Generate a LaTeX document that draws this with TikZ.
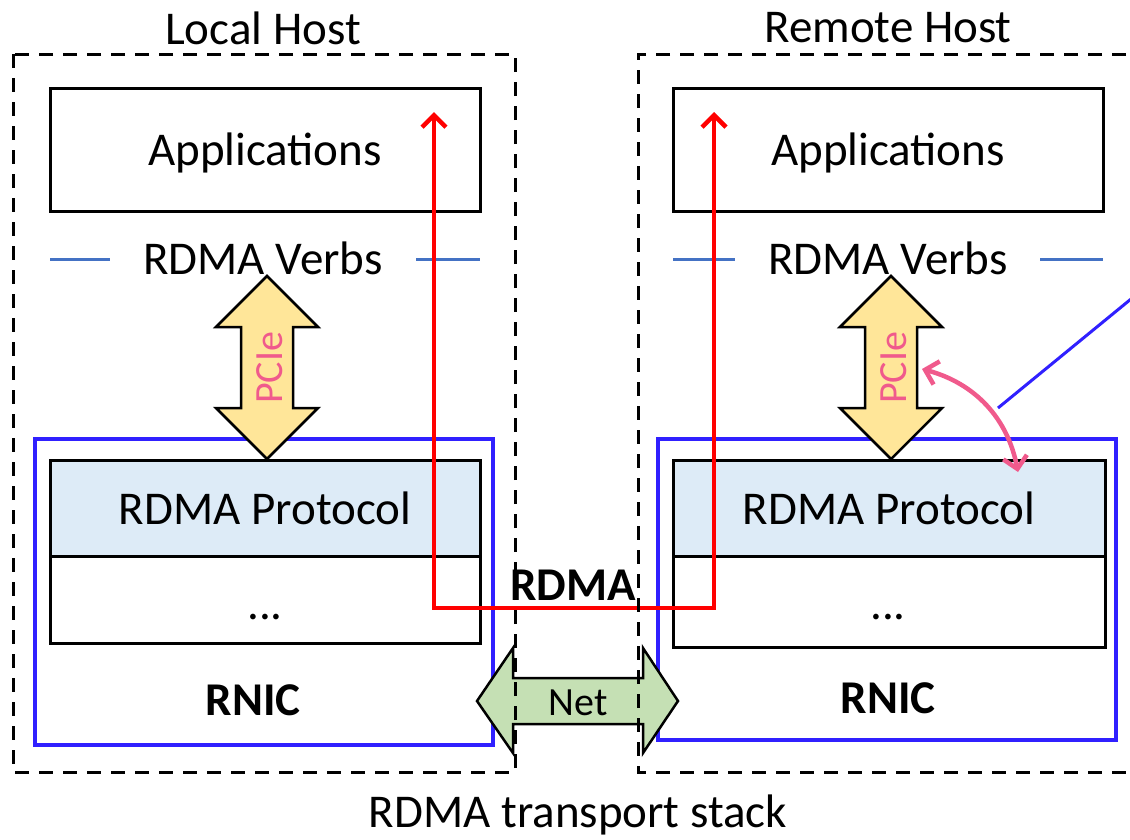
\documentclass[tikz,border=0pt]{standalone}
\usepackage{fontspec}
\setmainfont{Carlito}
\usetikzlibrary{arrows.meta}
\definecolor{rnicblue}{RGB}{48,32,255}
\definecolor{verbblue}{RGB}{68,114,196}
\definecolor{protofill}{RGB}{221,235,247}
\definecolor{pcifill}{RGB}{255,230,153}
\definecolor{netfill}{RGB}{197,224,180}
\definecolor{pinktxt}{RGB}{240,90,140}
\definecolor{redline}{RGB}{255,0,0}
\begin{document}
\begin{tikzpicture}[x=1pt,y=-1pt,
  big/.style={font=\fontsize{47}{56}\selectfont},
  bigbold/.style={font=\fontsize{47}{56}\selectfont\bfseries},
  small/.style={font=\fontsize{40}{48}\selectfont},
  hostbox/.style={draw=black,line width=3pt,dash pattern=on 14pt off 10pt},
  boxnode/.style={draw=black,line width=3pt,inner sep=0pt,big,text depth=0pt},
  rnicbox/.style={draw=rnicblue,line width=3.5pt,inner sep=0pt},
  verbdash/.style={draw=verbblue,line width=3pt},
  bigarrow/.style={draw=black,line width=2.5pt,line join=miter},
  redpath/.style={draw=redline,line width=4.5pt,{Straight Barb[length=12pt,width=24pt]}-{Straight Barb[length=12pt,width=24pt]}},
  pinkpath/.style={draw=pinktxt,line width=4.5pt,{Straight Barb[length=12pt,width=24pt]}-{Straight Barb[length=12pt,width=24pt]}}
]
\useasboundingbox (0,0) rectangle (1130,839);
\clip (0,0) rectangle (1130,839);

% titles
\node[big] (lh) at (263,28) {Local Host};
\node[big] (rh) at (888,28) {Remote Host};
\node[big] (stack) at (578,815) {RDMA transport stack};

% applications
\node[boxnode,minimum width=430pt,minimum height=123pt] (app1) at (265,149.5) {Applications};
\node[boxnode,minimum width=430pt,minimum height=123pt] (app2) at (888,149.5) {Applications};

% RDMA verbs
\node[big] (verbs1) at (263,258) {RDMA Verbs};
\node[big] (verbs2) at (888,258) {RDMA Verbs};
\draw[verbdash] (50,259) -- (110,259);
\draw[verbdash] (416,259) -- (480,259);
\draw[verbdash] (673,259) -- (735,259);
\draw[verbdash] (1040,259) -- (1103,259);

% RNIC boxes
\node[rnicbox,minimum width=458pt,minimum height=306pt] (rnic1) at (264,592) {};
\node[rnicbox,minimum width=458pt,minimum height=301pt] (rnic2) at (887,589.5) {};
\node[bigbold] (rnict1) at (253,700) {RNIC};
\node[bigbold] (rnict2) at (888,698) {RNIC};

% protocol boxes
\node[boxnode,fill=protofill,minimum width=430pt,minimum height=96pt] (proto1) at (265,508) {RDMA Protocol};
\node[boxnode,minimum width=430pt,minimum height=87pt] (dots1) at (265,599.5) {};
\node[big] (dotst1) at (265,617) {...};
\node[boxnode,fill=protofill,minimum width=432pt,minimum height=96pt] (proto2) at (889,508) {RDMA Protocol};
\node[boxnode,minimum width=432pt,minimum height=91pt] (dots2) at (889,601.5) {};
\node[big] (dotst2) at (888,617) {...};

% PCIe arrows
\draw[bigarrow,fill=pcifill] (267,276) -- (318,327) -- (293,327) -- (293,408) -- (318,408) -- (267,459) -- (216,408) -- (241,408) -- (241,327) -- (216,327) -- cycle;
\node[small,text=pinktxt,rotate=90] (pcie1) at (270,368) {PCIe};
\draw[bigarrow,fill=pcifill] (891,276) -- (942,327) -- (917,327) -- (917,408) -- (942,408) -- (891,459) -- (840,408) -- (865,408) -- (865,327) -- (840,327) -- cycle;
\node[small,text=pinktxt,rotate=90] (pcie2) at (894,368) {PCIe};

% blue line and pink arrow
\coordinate (bl1) at (998,408);
\coordinate (bl2) at (1142,290);
\draw[draw=rnicblue,line width=3pt] (bl1) -- (bl2);
\coordinate (pk1) at (922,369);
\coordinate (pk2) at (1018,472);
\draw[pinkpath] (pk1) to[bend left=32] (pk2);

% Net arrow
\draw[bigarrow,fill=netfill] (477,701) -- (513,648) -- (513,678) -- (643,678) -- (643,648) -- (678,701) -- (643,753) -- (643,724) -- (513,724) -- (513,753) -- cycle;
\node[small] (net) at (578,703) {Net};

% RDMA red path
\node[bigbold] (rdma) at (573,585) {RDMA};
\coordinate (r1) at (434,112);
\coordinate (rm) at (574,608);
\coordinate (r2) at (714,112);
\draw[redpath] (r1) |- (rm) -| (r2);

% host boxes
\draw[hostbox] (13,54) rectangle (515,772);
\draw[hostbox] (1150,54) -- (638,54) -- (638,772) -- (1150,772);
\end{tikzpicture}
\end{document}
